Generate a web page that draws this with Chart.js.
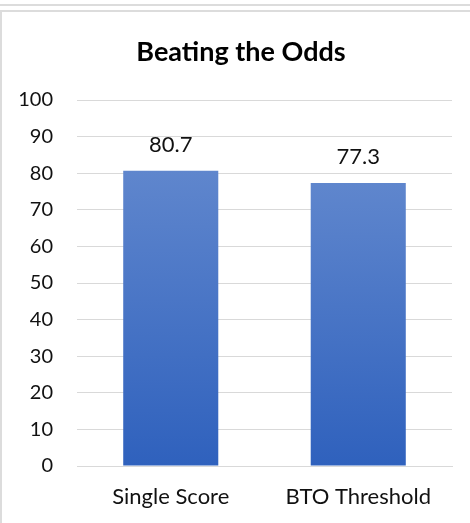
<!DOCTYPE html>
<html>
<head>
<meta charset="utf-8">
<script src="https://cdn.jsdelivr.net/npm/chart.js@4/dist/chart.umd.min.js"></script>
<style>
  html, body { margin: 0; padding: 0; background: #fff; }
  #wrap { position: relative; width: 470px; height: 523px; overflow: hidden; }
  .line-top { position: absolute; left: 0; top: 4px; width: 470px; height: 2px; background: #dcdcdc; }
  .frame { position: absolute; left: 0; top: 10px; width: 470px; height: 513px;
           border-top: 2px solid #dcdcdc; border-left: 2px solid #dcdcdc; box-sizing: border-box; }
  canvas { position: absolute; left: 0; top: 0; }
</style>
</head>
<body>
<div id="wrap">
  <div class="line-top"></div>
  <div class="frame"></div>
  <canvas id="chart" width="470" height="523"></canvas>
</div>
<script>
const categories = ['Single Score', 'BTO Threshold'];
const scores = [80.7, 77.3];
const yTicks = [0, 10, 20, 30, 40, 50, 60, 70, 80, 90, 100];

const FONT = 'Lato, "Open Sans", sans-serif';
const TEXT = '#111111';

// vertical gradient per bar, light at the top, darker at the base
function barFill(ctx) {
  const chart = ctx.chart;
  const area = chart.chartArea;
  if (!area) return '#4472c4';
  const y = chart.scales.y;
  const v = ctx.raw;
  const g = chart.ctx.createLinearGradient(0, y.getPixelForValue(v), 0, y.getPixelForValue(0));
  g.addColorStop(0, '#5f86cd');
  g.addColorStop(1, '#2f61bd');
  return g;
}

// value labels above each bar
const valueLabels = {
  id: 'valueLabels',
  afterDatasetsDraw(chart) {
    const ctx = chart.ctx;
    const meta = chart.getDatasetMeta(0);
    ctx.save();
    ctx.font = '22px ' + FONT;
    ctx.fillStyle = TEXT;
    ctx.textAlign = 'center';
    ctx.textBaseline = 'middle';
    meta.data.forEach((bar, i) => {
      ctx.fillText(scores[i].toFixed(1), bar.x, bar.y - 26);
    });
    ctx.restore();
  }
};

new Chart(document.getElementById('chart'), {
  type: 'bar',
  data: {
    labels: categories,
    datasets: [{
      data: scores,
      backgroundColor: barFill,
      borderWidth: 0,
      barPercentage: 1,
      categoryPercentage: 0.507
    }]
  },
  options: {
    responsive: false,
    animation: false,
    devicePixelRatio: 1,
    events: [],
    layout: { padding: { top: 11, right: 0, bottom: 0, left: 12 } },
    plugins: {
      legend: { display: false },
      tooltip: { enabled: false },
      title: {
        display: true,
        text: 'Beating the Odds',
        color: '#000',
        font: { family: FONT, size: 27, weight: 'bold', lineHeight: 1.2 },
        padding: { top: 24.8, bottom: 31.8 }
      }
    },
    scales: {
      x: {
        grid: { display: false, drawTicks: false },
        border: { display: true, color: '#d9d9d9', width: 1 },
        ticks: { color: TEXT, font: { family: FONT, size: 22 }, padding: 18 },
        afterFit(scale) { scale.height = 57; }
      },
      y: {
        min: 0,
        max: 100,
        afterBuildTicks(scale) { scale.ticks = yTicks.map(v => ({ value: v })); },
        grid: { color: '#d9d9d9', lineWidth: 1, drawTicks: false },
        border: { display: false },
        ticks: { color: TEXT, font: { family: FONT, size: 20 }, padding: 24 },
        afterFit(scale) { scale.width = 65; }
      },
      // empty right-hand gutter so the plot stops short of the frame edge
      yRight: {
        position: 'right',
        min: 0,
        max: 100,
        grid: { display: false, drawTicks: false },
        border: { display: false },
        ticks: { display: false },
        afterFit(scale) { scale.width = 18; }
      }
    }
  },
  plugins: [valueLabels]
});
</script>
</body>
</html>
